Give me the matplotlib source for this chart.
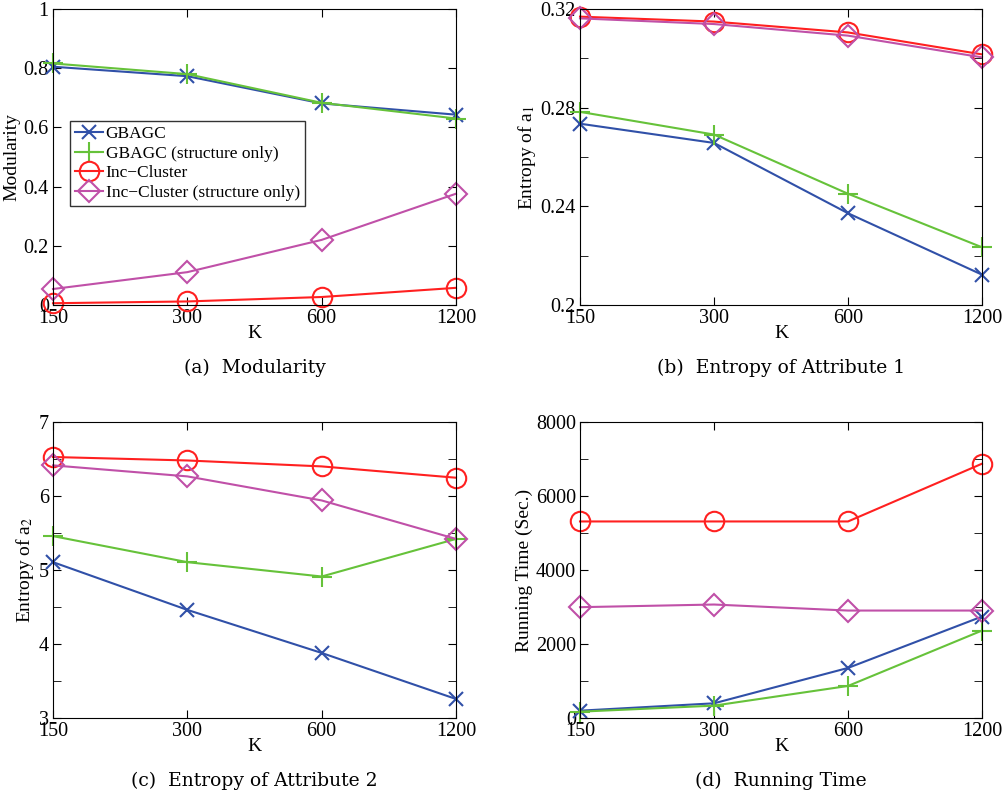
import numpy as np
import matplotlib.pyplot as plt
from matplotlib.ticker import MultipleLocator, FixedLocator, NullFormatter

plt.rcParams['font.family'] = ['Liberation Serif', 'DejaVu Serif']
plt.rcParams['mathtext.fontset'] = 'stix'

K = [150, 300, 600, 1200]
labels = ["GBAGC", "GBAGC (structure only)", "Inc\u2212Cluster", "Inc\u2212Cluster (structure only)"]

mod_gbagc = [0.805, 0.773, 0.681, 0.643]
mod_gbagc_s = [0.816, 0.780, 0.683, 0.630]
mod_inc = [0.006, 0.012, 0.027, 0.058]
mod_inc_s = [0.054, 0.111, 0.220, 0.376]

a1_gbagc = [0.2735, 0.2657, 0.2372, 0.2123]
a1_gbagc_s = [0.2783, 0.2691, 0.2451, 0.2234]
a1_inc = [0.3169, 0.3149, 0.3105, 0.3016]
a1_inc_s = [0.3162, 0.3139, 0.3092, 0.3004]

a2_gbagc = [5.106, 4.461, 3.879, 3.257]
a2_gbagc_s = [5.458, 5.106, 4.912, 5.42]
a2_inc = [6.527, 6.48, 6.40, 6.247]
a2_inc_s = [6.414, 6.265, 5.94, 5.42]

rt_gbagc = [198, 397, 1353, 2742]
rt_gbagc_s = [171, 334, 866, 2363]
rt_inc = [5312, 5312, 5312, 6873]
rt_inc_s = [2995, 3067, 2904, 2904]

colors = ["#3050a8", "#66c23a", "#ff2020", "#c050a8"]
markers = ["x", "+", "o", "D"]
msizes = [10, 14, 14, 11]

fig = plt.figure(figsize=(10.08, 7.96), dpi=100)
W, H = 1008, 796
boxes = [(53, 9, 403, 296), (580, 9, 402, 296), (53, 422, 403, 296), (580, 422, 402, 296)]
axes = [fig.add_axes([x / W, 1 - (y + h) / H, w / W, h / H]) for x, y, w, h in boxes]

panels = [
    ([mod_gbagc, mod_gbagc_s, mod_inc, mod_inc_s], (0, 1), 0.2, 0.2, "Modularity", "(a)  Modularity"),
    ([a1_gbagc, a1_gbagc_s, a1_inc, a1_inc_s], (0.2, 0.32), 0.04, 0.02, "Entropy of a$_1$", "(b)  Entropy of Attribute 1"),
    ([a2_gbagc, a2_gbagc_s, a2_inc, a2_inc_s], (3, 7), 1, 0.5, "Entropy of a$_2$", "(c)  Entropy of Attribute 2"),
    ([rt_gbagc, rt_gbagc_s, rt_inc, rt_inc_s], (0, 8000), 2000, 1000, "Running Time (Sec.)", "(d)  Running Time"),
]

for ax, (series, ylim, major, minor, ylabel, caption), (bx, by, bw, bh) in zip(axes, panels, boxes):
    for s, c, m, ms, lab in zip(series, colors, markers, msizes, labels):
        ax.plot(K, s, color=c, marker=m, markersize=ms, markerfacecolor='none',
                markeredgecolor=c, markeredgewidth=1.5, linewidth=1.5, label=lab, clip_on=False)
    ax.set_xscale("log", base=2)
    ax.set_xlim(150, 1200)
    ax.xaxis.set_major_locator(FixedLocator(K))
    ax.xaxis.set_minor_locator(FixedLocator([]))
    ax.set_xticklabels([str(k) for k in K])
    ax.set_ylim(*ylim)
    ax.yaxis.set_major_locator(MultipleLocator(major))
    ax.yaxis.set_minor_locator(MultipleLocator(minor))
    ax.yaxis.set_minor_formatter(NullFormatter())
    ax.tick_params(which='both', direction='in', top=True, right=True, length=6,
                   labelsize=14.5, pad=3)
    ax.set_xlabel("K", fontsize=14, labelpad=-2)
    ax.set_ylabel(ylabel, fontsize=14, labelpad=2)
    fig.text((bx + bw / 2) / W, 1 - (by + bh + 63) / H, caption, ha='center', va='center',
             fontsize=13.5, family=['DejaVu Serif'])


def fmt_a(v, p):
    v = round(v, 6)
    if v == 0 or v == 1:
        return str(int(v))
    return f"{v:.1f}"


def fmt_b(v, p):
    v = round(v, 6)
    return "0.2" if v == 0.2 else f"{v:.2f}"


axes[0].yaxis.set_major_formatter(plt.FuncFormatter(fmt_a))
axes[1].yaxis.set_major_formatter(plt.FuncFormatter(fmt_b))

leg = axes[0].legend(loc='upper left', bbox_to_anchor=(0.042, 0.622), fontsize=12.5,
                     frameon=True, fancybox=False, edgecolor='black', handlelength=1.6,
                     handletextpad=0.15, borderpad=0.3, labelspacing=0.2, borderaxespad=0)
leg.get_frame().set_linewidth(1.0)

fig.savefig("out.png", dpi=100)
